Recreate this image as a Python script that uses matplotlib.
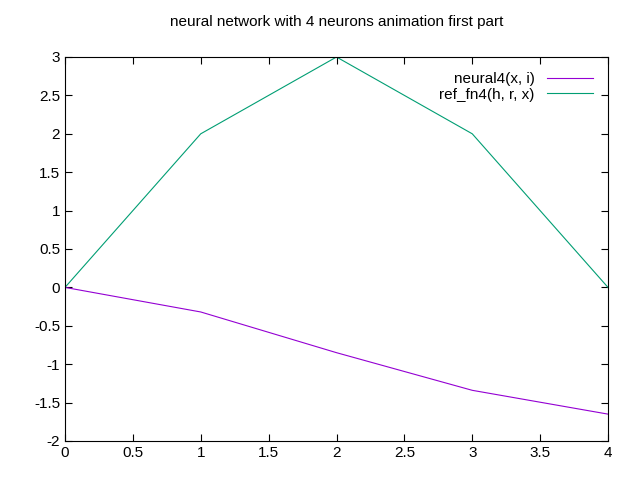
import matplotlib
matplotlib.use("Agg")
import matplotlib.pyplot as plt

plt.rcParams['font.family'] = ['Liberation Sans', 'DejaVu Sans']

x = [0, 1, 2, 3, 4]
neural = [0, -0.32, -0.85, -1.34, -1.65]
ref = [0, 2, 3, 2, 0]

fig = plt.figure(figsize=(6.4, 4.8), dpi=100)
ax = fig.add_axes([65/640, 39/480, 543/640, 384/480])
ax.plot(x, neural, color="#9400d3", lw=0.8, label="neural4(x, i)")
ax.plot(x, ref, color="#009e73", lw=0.8, label="ref_fn4(h, r, x)")
ax.set_xlim(0, 4)
ax.set_ylim(-2, 3)
ax.set_xticks([0, 0.5, 1, 1.5, 2, 2.5, 3, 3.5, 4])
ax.set_xticklabels(["0", "0.5", "1", "1.5", "2", "2.5", "3", "3.5", "4"])
ax.set_yticks([-2, -1.5, -1, -0.5, 0, 0.5, 1, 1.5, 2, 2.5, 3])
ax.set_yticklabels(["-2", "-1.5", "-1", "-0.5", "0", "0.5", "1", "1.5", "2", "2.5", "3"])
ax.tick_params(direction="in", top=True, right=True, labelsize=11, length=5)
ax.set_title("neural network with 4 neurons animation first part", fontsize=11, pad=22)
ax.legend(loc="upper right", frameon=False, markerfirst=False, fontsize=11,
          handlelength=3.0, borderaxespad=0.6, labelspacing=0.1)
fig.savefig("out.png")
